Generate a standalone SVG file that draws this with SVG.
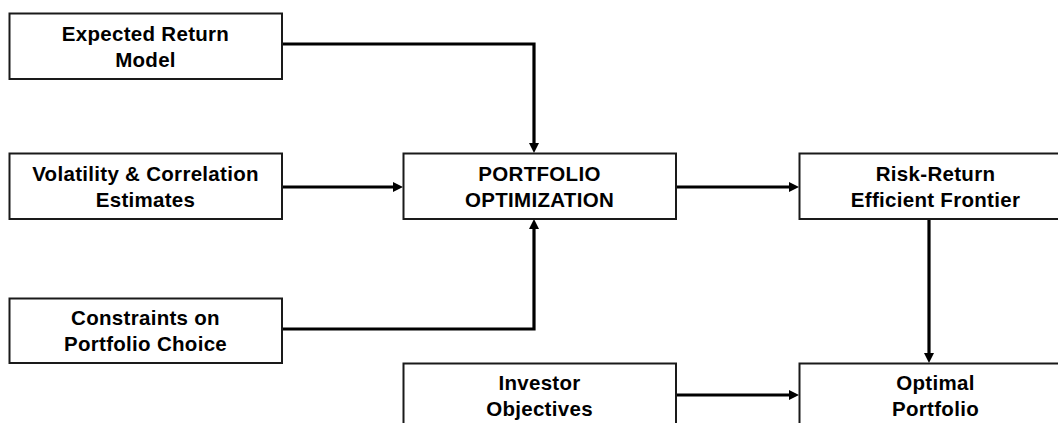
<svg xmlns="http://www.w3.org/2000/svg" width="1058" height="423" viewBox="0 0 1058 423">
  <style>
    .box { fill: #ffffff; stroke: #1a1a1a; stroke-width: 2; }
    .lbl { font-family: "Liberation Sans", Arial, Helvetica, sans-serif; font-weight: bold; font-size: 20.5px; letter-spacing: 0.3px; fill: #000000; text-anchor: middle; }
    .conn { fill: none; stroke: #000000; stroke-width: 3.2; }
  </style>
  <defs>
    <marker id="arrow" viewBox="0 0 10 10" refX="0" refY="5" markerWidth="10" markerHeight="10" markerUnits="userSpaceOnUse" orient="auto">
      <path d="M0,0 L10,5 L0,10 z" fill="#000000"/>
    </marker>
  </defs>
  <rect width="1058" height="423" fill="#ffffff"/>

  <g id="connectors">
    <path class="conn" d="M282,44 H534 V143" marker-end="url(#arrow)"/>
    <path class="conn" d="M282,187 H393" marker-end="url(#arrow)"/>
    <path class="conn" d="M282,329 H534 V229" marker-end="url(#arrow)"/>
    <path class="conn" d="M676,187 H789" marker-end="url(#arrow)"/>
    <path class="conn" d="M929,219 V353" marker-end="url(#arrow)"/>
    <path class="conn" d="M676,395 H789" marker-end="url(#arrow)"/>
  </g>

  <g id="expected-return">
    <rect class="box" x="9.5" y="13.5" width="272.5" height="65.5"/>
    <text class="lbl" x="145.5" y="40.5">Expected Return</text>
    <text class="lbl" x="145.5" y="66.5">Model</text>
  </g>
  <g id="volatility">
    <rect class="box" x="9.5" y="153.5" width="272.5" height="65.5"/>
    <text class="lbl" x="145.5" y="180.5">Volatility &amp; Correlation</text>
    <text class="lbl" x="145.5" y="206.5">Estimates</text>
  </g>
  <g id="constraints">
    <rect class="box" x="9.5" y="298.5" width="272.5" height="64.5"/>
    <text class="lbl" x="145.5" y="325">Constraints on</text>
    <text class="lbl" x="145.5" y="351">Portfolio Choice</text>
  </g>
  <g id="portfolio-optimization">
    <rect class="box" x="403.5" y="153.5" width="272.5" height="65.5"/>
    <text class="lbl" x="539.5" y="180.5">PORTFOLIO</text>
    <text class="lbl" x="539.5" y="206.5">OPTIMIZATION</text>
  </g>
  <g id="efficient-frontier">
    <rect class="box" x="799.5" y="153.5" width="272.5" height="65.5"/>
    <text class="lbl" x="935.5" y="180.5">Risk-Return</text>
    <text class="lbl" x="935.5" y="206.5">Efficient Frontier</text>
  </g>
  <g id="investor-objectives">
    <rect class="box" x="403.5" y="363.5" width="272.5" height="70"/>
    <text class="lbl" x="539.5" y="389.5">Investor</text>
    <text class="lbl" x="539.5" y="415.5">Objectives</text>
  </g>
  <g id="optimal-portfolio">
    <rect class="box" x="799.5" y="363.5" width="272.5" height="70"/>
    <text class="lbl" x="935.5" y="389.5">Optimal</text>
    <text class="lbl" x="935.5" y="415.5">Portfolio</text>
  </g>
</svg>
